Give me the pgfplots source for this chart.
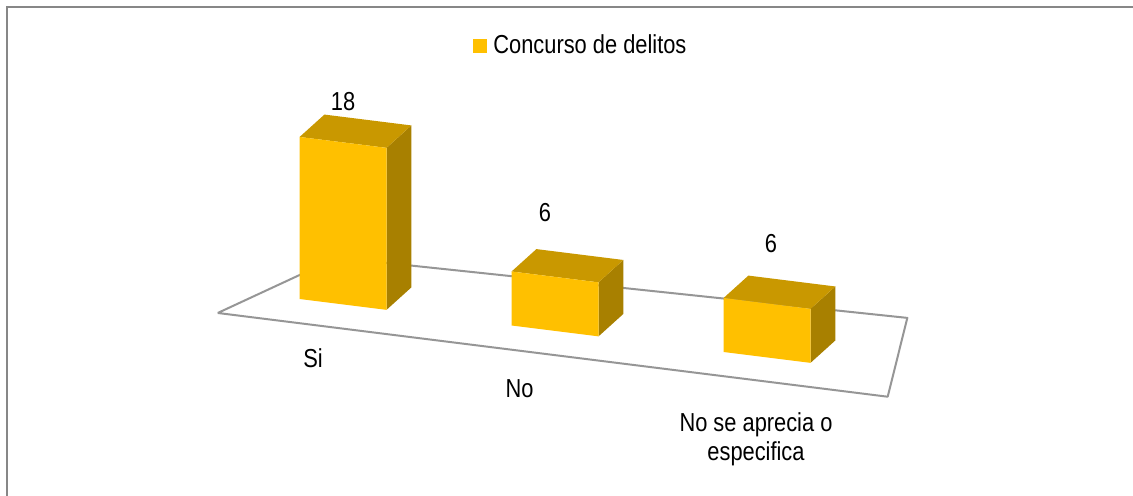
\documentclass[border=0pt]{standalone}
\usepackage{pgfplots}
\pgfplotsset{compat=1.18}
\usepackage{fontspec}
\setmainfont{Liberation Sans}[FakeStretch=0.84]

\definecolor{barfront}{RGB}{255,192,0}
\definecolor{bartop}{RGB}{201,152,0}
\definecolor{barside}{RGB}{168,128,0}
\definecolor{floorline}{RGB}{150,150,150}
\definecolor{frameline}{RGB}{135,135,135}

% one 3D bar: #1 = category position, #2 = value
\newcommand{\drawbar}[2]{%
  \pgfmathsetmacro\xl{#1-0.205}%
  \pgfmathsetmacro\xr{#1+0.205}%
  \edef\doit{%
    \noexpand\addplot3[draw=none,fill=barside] coordinates {(\xr,0.38,0) (\xr,0.78,0) (\xr,0.78,#2) (\xr,0.38,#2)};
    \noexpand\addplot3[draw=none,fill=bartop] coordinates {(\xl,0.38,#2) (\xr,0.38,#2) (\xr,0.78,#2) (\xl,0.78,#2)};
    \noexpand\addplot3[draw=none,fill=barfront] coordinates {(\xl,0.38,0) (\xr,0.38,0) (\xr,0.38,#2) (\xl,0.38,#2)};
  }\doit
}

\begin{document}
\fontsize{13}{15.5}\selectfont
\begin{tikzpicture}
\begin{scope}[overlay]
\begin{axis}[
  hide axis, clip=false, no markers,
  x={(106pt,-13.25pt)}, y={(31pt,28pt)}, z={(0pt,4.5pt)},
  xmin=-0.5, xmax=2.7, ymin=0, ymax=1.3, zmin=0, zmax=22,
]
\coordinate (O) at (axis cs:0,0,0);
% floor
\addplot3[draw=floorline, line width=1pt, fill=white, line join=round]
  coordinates {(-0.48,0,0) (2.68,0,0) (2.40,1.275,0) (-0.24,1.10,0) (-0.48,0,0)};
\drawbar{0}{18}
\drawbar{1}{6}
\drawbar{2}{6}
\node at (axis cs:0,0.38,18) [yshift=20.5pt] {18};
\node at (axis cs:1,0.38,6) [xshift=-5pt, yshift=32pt] {6};
\node at (axis cs:2,0.38,6) [xshift=2pt, yshift=30pt] {6};
\end{axis}
\end{scope}

\begin{scope}[shift={(O)}]
\begin{scope}[x=0.5pt, y=-0.5pt, shift={(-319.5,-325.7)}]
\useasboundingbox (0,0) rectangle (1133,496);
\draw[frameline, line width=1pt] (7.5,510) -- (7.5,7.5) -- (1145,7.5);
\fill[barfront] (473,39) rectangle (487,53);
\node[anchor=base west, inner sep=0pt] at (493,54) {Concurso de delitos};
\node[anchor=base, inner sep=0pt] at (313,368) {Si};
\node[anchor=base, inner sep=0pt] at (519.5,398) {No};
\node[anchor=base, inner sep=0pt] at (756,432) {No se aprecia o};
\node[anchor=base, inner sep=0pt] at (756,461) {especifica};
\end{scope}
\end{scope}
\end{tikzpicture}
\end{document}
